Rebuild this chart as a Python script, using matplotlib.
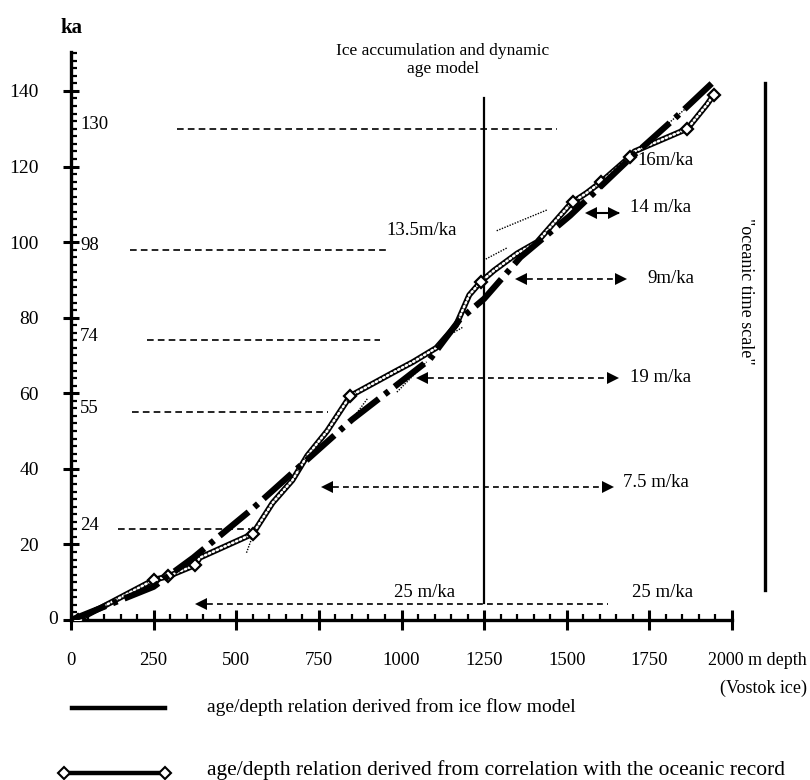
import matplotlib
matplotlib.use("Agg")
import matplotlib.pyplot as plt
import numpy as np

plt.rcParams['font.family'] = ['Liberation Serif', 'DejaVu Serif']

# ---------------- data ----------------
# ice flow model (dash-dot thick)
ice_depth = [0, 250, 370, 550, 690, 850, 1086, 1176, 1250, 1360, 1510, 1690, 1830, 1945]
ice_age = [0, 8.8, 16.5, 29.5, 40.5, 53, 69, 79.5, 85, 96, 107, 122, 133, 142.5]

# oceanic correlation (chain line with diamonds at tie points)
oce_depth = [20, 250, 295, 375, 390, 550, 610, 670, 715, 775, 835, 845, 975, 1035, 1105,
             1165, 1205, 1240, 1280, 1350, 1410, 1510, 1520, 1560, 1605, 1690, 1705, 1865,
             1925, 1945]
oce_age = [0, 10.6, 11.6, 14.5, 16.5, 22.8, 31, 37, 43.5, 50, 58, 59.3, 65.5, 68.3, 72,
           78, 86, 89.5, 92.5, 97, 100, 110, 110.7, 113, 116, 122.5, 124, 130,
           136.5, 139]
oce_diamonds = [0, 1, 2, 3, 5, 11, 17, 22, 24, 25, 27, 29]

# thin dotted segments
dot_depth = [10, 240, np.nan, 531, 551, np.nan, 849, 898, np.nan, 986, 1076, np.nan,
             1137, 1186, np.nan, 1255, 1320, np.nan, 1288, 1440, np.nan, 1802, 1862]
dot_age = [0.5, 10.2, np.nan, 17.8, 22.6, np.nan, 52.9, 58.7, np.nan, 60.3, 68.3, np.nan,
           75, 77.5, np.nan, 95.5, 98.5, np.nan, 103, 108.5, np.nan, 131, 135.5]

# reference levels (ka) and dashed level lines
levels = [130, 98, 74, 55, 24]
level_labels = ["130", "98", "74", "55", "24"]
level_start = [320, 178, 230, 184, 142]
level_end = [1470, 965, 934, 777, 541]

# accumulation-rate arrows
arrow_age = [4.2, 35.3, 64, 90.3]
arrow_x0 = [381, 762, 1049, 1349]
arrow_x1 = [1624, 1636, 1651, 1675]
arrow_right_head = [False, True, True, True]
small_arrow_age = 107.8
small_arrow_x = [1563, 1654]

rate_labels = ["25 m/ka", "25 m/ka", "7.5 m/ka", "19 m/ka", "9m/ka", "14 m/ka", "16m/ka", "13.5m/ka"]
rate_x = [1070, 1790, 1770, 1785, 1814, 1785, 1800, 1061]
rate_y = [7.3, 7.3, 36.4, 64.3, 90.3, 109.2, 121.7, 103]

xticks = [0, 250, 500, 750, 1000, 1250, 1500, 1750, 2000]
xticklabels = ["0", "250", "500", "750", "1000", "1250", "1500", "1750", ""]
yticks = [0, 20, 40, 60, 80, 100, 120, 140]
yticklabels = ["", "20", "40", "60", "80", "100", "120", "140"]

# ---------------- figure ----------------
W, H = 810, 780
fig = plt.figure(figsize=(W / 100, H / 100), dpi=100)
ax = fig.add_axes([71 / W, 1 - 620 / H, (732 - 71) / W, (620 - 52) / H])
ax.set_xlim(0, 2000)
ax.set_ylim(0, 150.3)

for s in ['top', 'right']:
    ax.spines[s].set_visible(False)
for s in ['left', 'bottom']:
    ax.spines[s].set_linewidth(2.4)

ax.set_xticks(xticks)
ax.set_xticklabels(xticklabels)
ax.set_yticks(yticks)
ax.set_yticklabels(yticklabels)
ax.set_xticks(np.arange(0, 2001, 50), minor=True)
ax.set_yticks(np.arange(0, 151, 2), minor=True)
ax.tick_params(axis='x', which='major', direction='inout', length=14, width=2.2, pad=16,
               labelsize=13.5)
ax.tick_params(axis='y', which='major', direction='inout', length=12, width=2.2, pad=17,
               labelsize=14)
ax.tick_params(axis='both', which='minor', direction='in', length=4, width=1.6)

# "0" label at corner
ax.text(-55, 0, "0", ha='center', va='center', fontsize=14, clip_on=False)
ax.text(0, 154, "ka", ha='center', va='bottom', fontsize=15, fontweight='bold', clip_on=False)
ax.text(2226, -10.6, "2000 m depth", ha='right', va='center', fontsize=13, clip_on=False)
ax.text(2226, -18.2, "(Vostok ice)", ha='right', va='center', fontsize=13, clip_on=False)

# level lines
for lv, lab, x0, x1 in zip(levels, level_labels, level_start, level_end):
    ax.plot([x0, x1], [lv, lv], color='black', lw=1.2, ls=(0, (4, 2.5)))
    ax.text(27, lv + 1, lab, ha='left', va='center', fontsize=13.5)

# vertical line at 1250 m
ax.plot([1250, 1250], [4.6, 138], color='black', lw=1.6)
ax.text(1125, 148.2, "Ice accumulation and dynamic\nage model", ha='center', va='center',
        fontsize=12.5, linespacing=1.15, clip_on=False)

# right bar: oceanic time scale
ax.plot([2099, 2099], [142, 8], color='black', lw=2.4, clip_on=False)
ax.text(2040, 87, '"oceanic time scale"', rotation=270, ha='center', va='center',
        fontsize=13, clip_on=False)

# arrows
for a, x0, x1, rh in zip(arrow_age, arrow_x0, arrow_x1, arrow_right_head):
    ax.plot([x0, x1], [a, a], color='black', lw=1.2, ls=(0, (3.5, 2.5)))
    ax.plot([x0 + 12], [a], marker='<', color='black', ms=9, mew=0)
    if rh:
        ax.plot([x1 - 12], [a], marker='>', color='black', ms=9, mew=0)
ax.plot(small_arrow_x, [small_arrow_age] * 2, color='black', lw=1.5)
ax.plot([small_arrow_x[0] + 10], [small_arrow_age], marker='<', color='black', ms=8, mew=0)
ax.plot([small_arrow_x[1] - 10], [small_arrow_age], marker='>', color='black', ms=8, mew=0)

for lab, x, y in zip(rate_labels, rate_x, rate_y):
    ax.text(x, y, lab, ha='center', va='center', fontsize=13.5)

# curves
ax.plot(dot_depth, dot_age, color='black', lw=1.0, ls=(0, (1, 1)), zorder=3)
ax.plot(oce_depth, oce_age, color='black', lw=4.2, solid_capstyle='round', zorder=4)
ax.plot(oce_depth, oce_age, color='white', lw=1.8, ls=(0, (0.6, 1.1)),
        dash_capstyle='round', zorder=5)
ax.plot([oce_depth[i] for i in oce_diamonds], [oce_age[i] for i in oce_diamonds],
        ls='none', marker='D', ms=6.5, mfc='white', mec='black', mew=1.6, zorder=6)
ax.plot(ice_depth, ice_age, color='black', lw=4.5, ls=(0, (6, 1.2, 0.8, 1.2)), zorder=7)

# legend drawn manually (pixel positions)
def fx(x):
    return x / W

def fy(y):
    return 1 - y / H

fig.add_artist(plt.Line2D([fx(72), fx(165)], [fy(708), fy(708)], color='black', lw=3.2))
fig.text(fx(207), fy(707), "age/depth relation derived from ice flow model",
         ha='left', va='center', fontsize=14)
fig.add_artist(plt.Line2D([fx(64), fx(165)], [fy(773), fy(773)], color='black', lw=3.2,
                          marker='D', markevery=[0, 1], ms=6, mfc='white', mec='black', mew=1.5))
fig.text(fx(207), fy(770), "age/depth relation derived from correlation with the oceanic record",
         ha='left', va='center', fontsize=15.5)

fig.savefig("out.png", dpi=100)
